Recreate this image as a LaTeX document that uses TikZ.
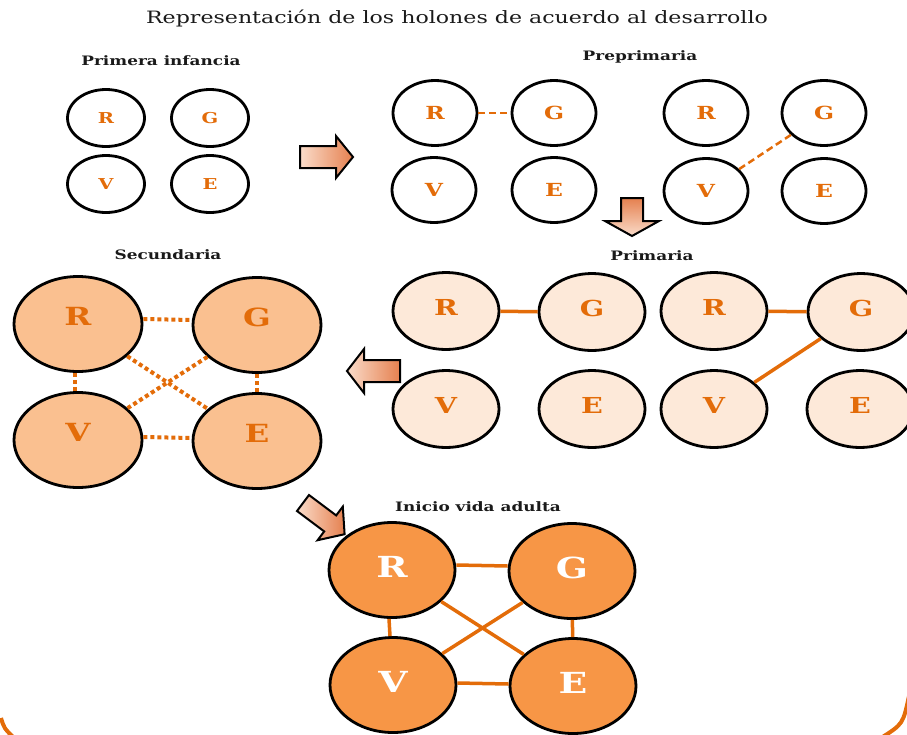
\documentclass[tikz,border=0pt]{standalone}
\usepackage{fontspec}
\setmainfont[FakeStretch=1.3]{DejaVu Serif}
\usetikzlibrary{shapes.geometric}
\definecolor{oline}{HTML}{E36C09}
\definecolor{peach}{HTML}{FAC090}
\definecolor{lpeach}{HTML}{FDE9D9}
\definecolor{orng}{HTML}{F79646}
\definecolor{alight}{HTML}{FADCCA}
\definecolor{adark}{HTML}{E5804F}
\definecolor{ink}{HTML}{1A1A1A}
\tikzset{
  ell/.style={ellipse, draw=black, line width=2.8pt, inner sep=0pt},
  e1/.style={ell, fill=white, minimum width=77pt, minimum height=57pt},
  e2/.style={ell, fill=white, minimum width=84pt, minimum height=65pt},
  e3/.style={ell, fill=lpeach, minimum width=106pt, minimum height=77pt},
  e4/.style={ell, fill=peach, minimum width=128pt, minimum height=95pt},
  e5/.style={ell, fill=orng, minimum width=126pt, minimum height=95pt},
  l1/.style={text=oline, font=\fontsize{15}{15}\selectfont\bfseries},
  l2/.style={text=oline, font=\fontsize{18}{18}\selectfont\bfseries},
  l3/.style={text=oline, font=\fontsize{22}{22}\selectfont\bfseries, yshift=4pt},
  l4/.style={text=oline, font=\fontsize{25}{25}\selectfont\bfseries, yshift=8pt},
  l5/.style={text=white, font=\fontsize{29}{29}\selectfont\bfseries, yshift=3pt},
  ttl/.style={text=ink, font=\fontsize{17}{17}\selectfont},
  sub/.style={text=ink, font=\fontsize{13}{13}\selectfont\bfseries},
  dsh/.style={draw=oline, line width=2.5pt, dash pattern=on 7pt off 4pt},
  dot/.style={draw=oline, line width=4pt, dash pattern=on 4pt off 3pt},
  sol/.style={draw=oline, line width=3.5pt},
  blk/.style={draw=black, line width=2pt, line join=miter},
  frame/.style={draw=oline, line width=4pt}
}
\begin{document}
\begin{tikzpicture}[x=1pt,y=-1pt]
\useasboundingbox (0,0) rectangle (907,734);
% titles
\node[ttl] (title) at (457,18) {Representación de los holones de acuerdo al desarrollo};
\node[sub] (t1) at (161,61) {Primera infancia};
\node[sub] (t2) at (640,57) {Preprimaria};
\node[sub] (t3) at (168,255) {Secundaria};
\node[sub] (t4) at (652,256) {Primaria};
\node[sub] (t5) at (478,507) {Inicio vida adulta};
% Primera infancia
\node[e1, label={[l1]center:R}] (aR) at (106,118) {};
\node[e1, label={[l1]center:G}] (aG) at (210,118) {};
\node[e1, label={[l1]center:V}] (aV) at (106,184) {};
\node[e1, label={[l1]center:E}] (aE) at (210,184) {};
% Preprimaria
\node[e2, label={[l2]center:R}] (bR) at (435,113) {};
\node[e2, label={[l2]center:G}] (bG) at (554,113) {};
\node[e2, label={[l2]center:V}] (bV) at (434,190) {};
\node[e2, label={[l2]center:E}] (bE) at (554,190) {};
\node[e2, label={[l2]center:R}] (cR) at (706,113) {};
\node[e2, label={[l2]center:G}] (cG) at (824,113) {};
\node[e2, label={[l2]center:V}] (cV) at (706,191) {};
\node[e2, label={[l2]center:E}] (cE) at (824,191) {};
\draw[dsh] (bR) -- (bG);
\draw[dsh] (cG) -- (cV);
% Primaria
\node[e3, label={[l3]center:R}] (dR) at (446,311) {};
\node[e3, label={[l3]center:G}] (dG) at (592,312) {};
\node[e3, label={[l3]center:V}] (dV) at (446,409) {};
\node[e3, label={[l3]center:E}] (dE) at (592,409) {};
\node[e3, label={[l3]center:R}] (fR) at (714,311) {};
\node[e3, label={[l3]center:G}] (fG) at (861,312) {};
\node[e3, label={[l3]center:V}] (fV) at (714,409) {};
\node[e3, label={[l3]center:E}] (fE) at (860,409) {};
\draw[sol] (dR) -- (dG);
\draw[sol] (fR) -- (fG);
\draw[sol] (fG) -- (fV);
% Secundaria
\node[e4, label={[l4]center:R}] (sR) at (78,324) {};
\node[e4, label={[l4]center:G}] (sG) at (257,325) {};
\node[e4, label={[l4]center:V}] (sV) at (78,440) {};
\node[e4, label={[l4]center:E}] (sE) at (257,441) {};
\draw[dot] ([yshift=5pt]sR.east) -- ([yshift=5pt]sG.west);
\draw[dot] ([yshift=3pt]sV.east) -- ([yshift=3pt]sE.west);
\draw[dot] ([xshift=-3pt]sR.south) -- ([xshift=-3pt]sV.north);
\draw[dot] (sG) -- (sE);
\draw[dot] (sR) -- (sE);
\draw[dot] (sG) -- (sV);
% Inicio vida adulta
\node[e5, label={[l5]center:R}] (vR) at (392,570) {};
\node[e5, label={[l5]center:G}] (vG) at (572,571) {};
\node[e5, label={[l5]center:V}] (vV) at (393,685) {};
\node[e5, label={[l5]center:E}] (vE) at (573,686) {};
\draw[sol] ([yshift=5pt]vR.east) -- ([yshift=5pt]vG.west);
\draw[sol] ([yshift=2pt]vV.east) -- ([yshift=2pt]vE.west);
\draw[sol] ([xshift=-3pt]vR.south) -- ([xshift=-3pt]vV.north);
\draw[sol] (vG) -- (vE);
\draw[sol] (vR) -- (vE);
\draw[sol] (vG) -- (vV);
% block arrows
\shadedraw[blk, left color=alight, right color=adark]
  (300,146) -- (336,146) -- (336,136) -- (353,157) -- (336,178) -- (336,168) -- (300,168) -- cycle;
\shadedraw[blk, top color=adark, bottom color=alight]
  (621,198) -- (643,198) -- (643,221) -- (659,221) -- (632,236) -- (605,221) -- (621,221) -- cycle;
\shadedraw[blk, left color=alight, right color=adark]
  (400,360) -- (364,360) -- (364,349) -- (347,371) -- (364,393) -- (364,382) -- (400,382) -- cycle;
\shadedraw[blk, left color=alight, right color=adark]
  (309,495) -- (336.2,515.4) -- (342.8,506.6) -- (344.6,534.2) -- (317.6,540.2) -- (324.2,531.4) -- (297,511) -- cycle;
% frame corners
\draw[frame] (1,718) .. controls (4,728) .. (14,738);
\draw[frame] (909,696) .. controls (903,724) .. (881,738);
\end{tikzpicture}
\end{document}
